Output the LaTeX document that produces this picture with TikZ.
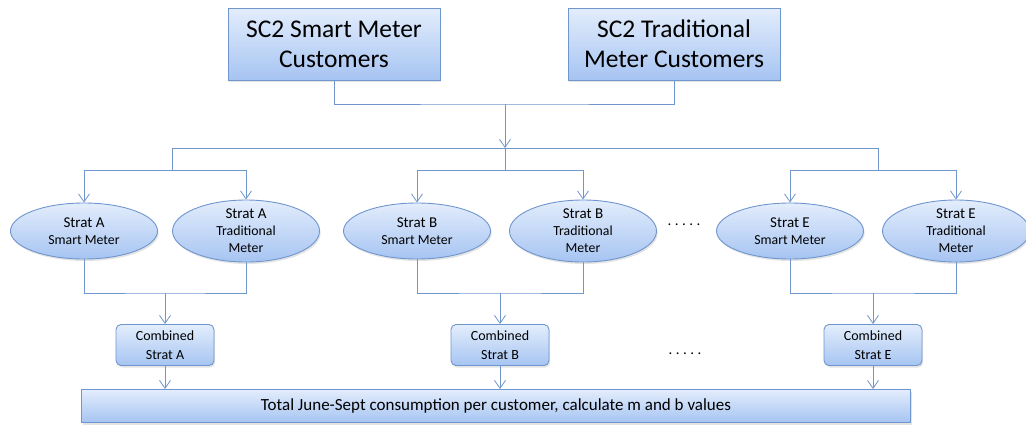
\documentclass[tikz,border=0pt]{standalone}
\usepackage{fontspec}
\setmainfont{Carlito}
\usetikzlibrary{arrows.meta,shapes.geometric,shadows}
\definecolor{edge}{HTML}{7096CE}
\definecolor{filltop}{HTML}{E3EDFC}
\definecolor{fillbot}{HTML}{A6C4F2}
\newcommand{\fs}[2]{\fontsize{#1}{#2}\selectfont}
\newcommand{\dotrow}{.\kern3.5pt.\kern3.5pt.\kern3.5pt.\kern3.5pt.}
\begin{document}
\begin{tikzpicture}[x=1pt,y=-1pt,
  shaded/.style={draw=edge, line width=0.9pt, top color=filltop, bottom color=fillbot,
    drop shadow={shadow xshift=1.2pt,shadow yshift=-2pt,opacity=0.22}, align=center, inner sep=0pt},
  topbox/.style={shaded, rectangle, minimum width=212pt, minimum height=72pt, font=\fs{25.5}{30}},
  stratbox/.style={shaded, ellipse, minimum width=147pt, minimum height=56pt, font=\fs{15}{17}},
  combbox/.style={shaded, rectangle, rounded corners=5pt, minimum width=98pt, minimum height=41pt, font=\fs{14}{19}},
  totalbox/.style={shaded, rectangle, minimum width=829pt, minimum height=33pt, font=\fs{17}{19}},
  link/.style={draw=edge, line width=0.8pt},
  arr/.style={link, -{Straight Barb[length=8pt,width=11pt]}},
  dots/.style={font=\fs{15}{15}, inner sep=0pt}
]
\useasboundingbox (0,0) rectangle (1026,424);

% customer groups
\node[topbox] (t1) at (334,44) {SC2 Smart Meter\\Customers};
\node[topbox] (t2) at (674,44) {SC2 Traditional\\Meter Customers};

% strategy ellipses
\node[stratbox] (sa) at (84,231)  {Strat A\\{\fs{13.8}{18}Smart Meter}};
\node[stratbox] (ta) at (246,231) {Strat A\\{\fs{13.8}{17}Traditional}\\{\fs{13.8}{17}Meter}};
\node[stratbox] (sb) at (417,231) {Strat B\\{\fs{13.8}{18}Smart Meter}};
\node[stratbox] (tb) at (583,231) {Strat B\\{\fs{13.8}{17}Traditional}\\{\fs{13.8}{17}Meter}};
\node[stratbox] (se) at (790,231) {Strat E\\{\fs{13.8}{18}Smart Meter}};
\node[stratbox] (te) at (956,231) {Strat E\\{\fs{13.8}{17}Traditional}\\{\fs{13.8}{17}Meter}};
\node[dots] (d1) at (684,225) {\dotrow};

% combined strategies
\node[combbox] (ca) at (165,345) {Combined\\Strat A};
\node[combbox] (cb) at (500,345) {Combined\\Strat B};
\node[combbox] (ce) at (873,345) {Combined\\Strat E};
\node[dots] (d2) at (685,354) {\dotrow};

% total
\node[totalbox] (tot) at (496,406) {Total June-Sept consumption per customer, calculate m and b values};

% merge of the two customer groups
\coordinate (m1) at (505,104);
\coordinate (m2) at (505,148);
\draw[link] (t1.south) |- (m1) -| (t2.south);
\draw[arr] (m1) -- (m2);

% distribution line
\coordinate (bl) at (172,148);
\coordinate (br) at (878,148);
\draw[link] (bl) -- (br);

% forks to each strategy pair
\coordinate (fa) at (172,170);
\coordinate (fb) at (505,170);
\coordinate (fe) at (878,170);
\draw[link] (bl) -- (fa);
\draw[link] (m2) -- (fb);
\draw[link] (br) -- (fe);
\draw[arr] (fa) -| (sa.north);
\draw[arr] (fa) -| (ta.north);
\draw[arr] (fb) -| (sb.north);
\draw[arr] (fb) -| (tb.north);
\draw[arr] (fe) -| (se.north);
\draw[arr] (fe) -| (te.north);

% joins below each pair
\coordinate (ja) at (165,293);
\coordinate (jb) at (500,293);
\coordinate (je) at (873,293);
\draw[link] (sa.south) |- (ja) -| (ta.south);
\draw[link] (sb.south) |- (jb) -| (tb.south);
\draw[link] (se.south) |- (je) -| (te.south);
\draw[arr] (ja) -- (ca.north);
\draw[arr] (jb) -- (cb.north);
\draw[arr] (je) -- (ce.north);

% into the total
\draw[arr] (ca.south) -- (ca.south |- tot.north);
\draw[arr] (cb.south) -- (cb.south |- tot.north);
\draw[arr] (ce.south) -- (ce.south |- tot.north);
\end{tikzpicture}
\end{document}
